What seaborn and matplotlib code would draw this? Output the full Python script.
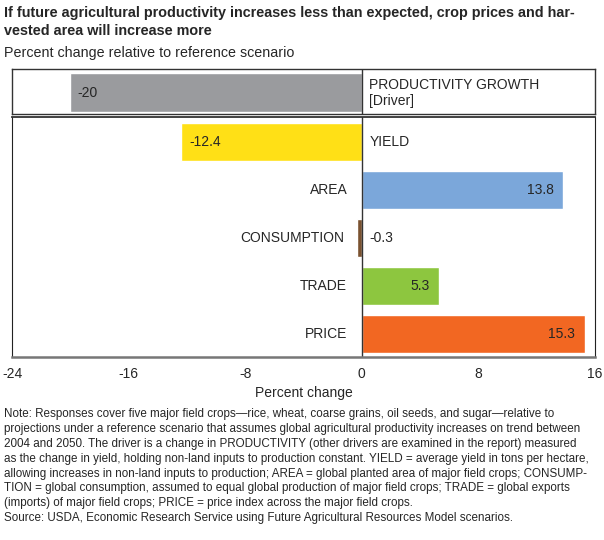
import numpy as np
import pandas as pd
import seaborn as sns
from matplotlib import pyplot as plt

# data
driver_label = 'PRODUCTIVITY GROWTH\n[Driver]'
driver_value = -20
categories = ['YIELD', 'AREA', 'CONSUMPTION', 'TRADE', 'PRICE']
values = [-12.4, 13.8, -0.3, 5.3, 15.3]
value_labels = ['-12.4', '13.8', '-0.3', '5.3', '15.3']
bar_colors = ['#FFE016', '#7BA7DA', '#7A5230', '#8DC63F', '#F26722']
x_ticks = [-24, -16, -8, 0, 8, 16]

title = ('If future agricultural productivity increases less than expected, crop prices and har-\n'
         'vested area will increase more')
subtitle = 'Percent change relative to reference scenario'
note = ('Note: Responses cover five major field crops\u2014rice, wheat, coarse grains, oil seeds, and sugar\u2014relative to\n'
        'projections under a reference scenario that assumes global agricultural productivity increases on trend between\n'
        '2004 and 2050. The driver is a change in PRODUCTIVITY (other drivers are examined in the report) measured\n'
        'as the change in yield, holding non-land inputs to production constant. YIELD = average yield in tons per hectare,\n'
        'allowing increases in non-land inputs to production; AREA = global planted area of major field crops; CONSUMP-\n'
        'TION = global consumption, assumed to equal global production of major field crops; TRADE = global exports\n'
        '(imports) of major field crops; PRICE = price index across the major field crops.\n'
        'Source: USDA, Economic Research Service using Future Agricultural Resources Model scenarios.')

sns.set_style('white')
plt.rcParams['font.family'] = ['Liberation Sans', 'DejaVu Sans']

W, H = 604, 540
fig = plt.figure(figsize=(W / 100, H / 100), dpi=100)


def box(l, t, r, b):
    return [l / W, 1 - b / H, (r - l) / W, (b - t) / H]


ax_d = fig.add_axes(box(12, 69, 595, 114))
ax = fig.add_axes(box(12, 117, 595, 357))

# driver panel
df_d = pd.DataFrame({'cat': ['driver'], 'val': [driver_value]})
sns.barplot(data=df_d, x='val', y='cat', orient='h', color='#9A9B9E',
            width=0.87, saturation=1, ax=ax_d)
ax_d.set_xlim(-24, 16)
ax_d.set_ylim(0.47, -0.53)
ax_d.axvline(0, color='#333333', lw=1)
ax_d.text(driver_value + 0.5, 0, str(driver_value), va='center', ha='left', fontsize=10)
ax_d.text(0.5, 0, driver_label, va='center', ha='left', fontsize=10, linespacing=1.2)
ax_d.set_xticks([])
ax_d.set_yticks([])
ax_d.set_xlabel('')
ax_d.set_ylabel('')
for s in ax_d.spines.values():
    s.set_color('#333333')
    s.set_linewidth(1)

# main panel
df = pd.DataFrame({'cat': categories, 'val': values})
sns.barplot(data=df, x='val', y='cat', hue='cat', palette=bar_colors, orient='h',
            width=0.79, saturation=1, legend=False, ax=ax)
ax.set_xlim(-24, 16)
ax.set_ylim(4.48, -0.52)
ax.axvline(0, color='#333333', lw=1)

for i, (c, v, lab) in enumerate(zip(categories, values, value_labels)):
    if v < -1:
        ax.text(v + 0.55, i, lab, va='center', ha='left', fontsize=10)
        ax.text(0.55, i, c, va='center', ha='left', fontsize=10)
    elif v < 0:
        ax.text(-1.2, i, c, va='center', ha='right', fontsize=10)
        ax.text(0.5, i, lab, va='center', ha='left', fontsize=10)
    else:
        ax.text(-1.0, i, c, va='center', ha='right', fontsize=10)
        ax.text(v - 0.65, i, lab, va='center', ha='right', fontsize=10)

ax.set_yticks([])
ax.set_ylabel('')
ax.set_xticks(x_ticks)
ax.set_xticklabels([str(t) for t in x_ticks], fontsize=10)
ax.tick_params(axis='x', direction='inout', length=9, width=1, color='#555555', pad=3)
ax.set_xlabel('Percent change', fontsize=10, labelpad=3)
ax.spines['bottom'].set_color('#777777')
ax.spines['bottom'].set_linewidth(1.8)
ax.spines['top'].set_color('#333333')
ax.spines['top'].set_linewidth(1.3)
ax.spines['left'].set_color('#222222')
ax.spines['right'].set_color('#222222')

fig.text(4 / W, 1 - 6 / H, title, ha='left', va='top', fontsize=10.4, fontweight='bold',
         linespacing=1.4)
fig.text(4 / W, 1 - 46 / H, subtitle, ha='left', va='top', fontsize=10.3)
fig.text(4 / W, 1 - 408 / H, note, ha='left', va='top', fontsize=8.4, linespacing=1.32)

fig.savefig('out.png', dpi=100)
